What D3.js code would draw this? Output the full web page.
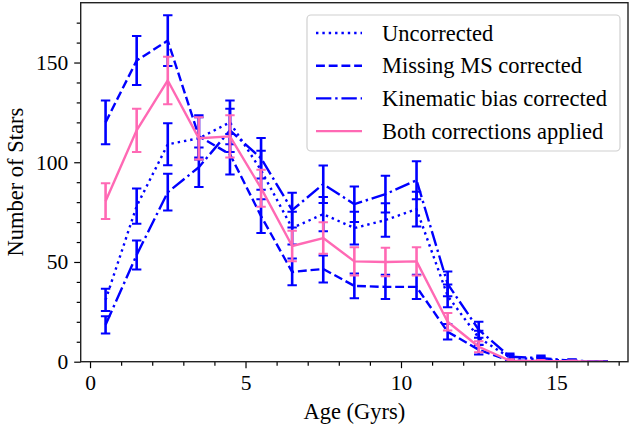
<!DOCTYPE html>
<html>
<head>
<meta charset="utf-8">
<script src="https://cdn.jsdelivr.net/npm/d3@7"></script>
<style>
  html, body { margin: 0; padding: 0; background: #fff; }
  text { font-family: "Liberation Serif", "Times New Roman", serif; fill: #000; }
</style>
</head>
<body>
<svg id="chart" width="630" height="428"></svg>
<script>
// ---- data ----
const ages = [0.5, 1.5, 2.5, 3.5, 4.5, 5.5, 6.5, 7.5, 8.5, 9.5, 10.5, 11.5, 12.5, 13.5, 14.5, 15.5, 16.5];

const uncorrected    = [31, 78, 109, 112, 120, 96, 67, 74, 67, 71, 76.5, 33, 12, 2, 1.2, 0.4, 0.1];
const uncorrectedErr = [5.6, 8.8, 10.5, 10.6, 11, 9.8, 8.2, 8.6, 8.2, 8.4, 8.7, 5.7, 3.5, 1.4, 1.1, 0.6, 0.3];

const missingMS      = [120, 151, 161, 113, 104, 73, 45, 46.5, 38, 37.5, 37.5, 15, 6, 0.5, 0.3, 0.1, 0];
const missingMSErr   = [11, 12.3, 12.7, 10.6, 10.2, 8.5, 6.7, 6.8, 6.2, 6.1, 6.1, 3.9, 2.4, 0.7, 0.5, 0.3, 0];

const kinematic      = [18.5, 53.5, 85, 97.5, 116, 102, 76, 89, 79, 84, 91, 39, 16, 2.5, 1.8, 0.5, 0.1];
const kinematicErr   = [4.3, 7.3, 9.2, 9.9, 10.8, 10.1, 8.7, 9.4, 8.9, 9.2, 9.5, 6.2, 4, 1.6, 1.3, 0.7, 0.3];

const bothCorr       = [80.5, 116, 141, 112, 113, 87, 58, 62, 50.3, 50, 50.3, 20, 7.5, 0.5, 0.3, 0.2, 0];
const bothCorrErr    = [9, 10.8, 11.9, 10.6, 10.6, 9.3, 7.6, 7.9, 7.1, 7.1, 7.1, 4.4, 2.8, 0.7, 0.5, 0.4, 0];

const seriesNames = ["Uncorrected", "Missing MS corrected", "Kinematic bias corrected", "Both corrections applied"];

const xMajorTicks = [0, 5, 10, 15];
const yMajorTicks = [0, 50, 100, 150];
const xLabel = "Age (Gyrs)";
const yLabel = "Number of Stars";

// ---- styling / layout ----
const blue = "#0000ff", pink = "#ff69b4";
const lw = 2.4;
const styles = [
  { color: blue, dash: [lw * 1, lw * 1.65].join(",") },
  { color: blue, dash: [lw * 3.7, lw * 1.6].join(",") },
  { color: blue, dash: [lw * 6.4, lw * 1.6, lw * 1, lw * 1.6].join(",") },
  { color: pink, dash: null }
];
const series = [
  { name: seriesNames[0], values: uncorrected, errs: uncorrectedErr },
  { name: seriesNames[1], values: missingMS, errs: missingMSErr },
  { name: seriesNames[2], values: kinematic, errs: kinematicErr },
  { name: seriesNames[3], values: bothCorr, errs: bothCorrErr }
];

const plot = { left: 80.7, right: 628, top: 2.7, bottom: 361.7 };
const svg = d3.select("#chart");

const x = d3.scaleLinear().domain([-0.3, 17.3]).range([plot.left, plot.right]);
const y = d3.scaleLinear().domain([0, 180]).range([plot.bottom, plot.top]);

svg.append("defs").append("clipPath").attr("id", "clip")
  .append("rect").attr("x", plot.left).attr("y", plot.top)
  .attr("width", plot.right - plot.left).attr("height", plot.bottom - plot.top);

const dataG = svg.append("g").attr("clip-path", "url(#clip)");

series.forEach((s, i) => {
  const st = styles[i];
  const g = dataG.append("g");
  const pts = ages.map((a, k) => ({ a, v: s.values[k], e: s.errs[k] }));
  const line = d3.line().x(d => x(d.a)).y(d => y(d.v));
  g.append("path").datum(pts)
    .attr("d", line)
    .attr("fill", "none")
    .attr("stroke", st.color)
    .attr("stroke-width", lw)
    .attr("stroke-linejoin", "round")
    .attr("stroke-dasharray", st.dash);
  // error bars
  const eb = g.selectAll("g.eb").data(pts).join("g").attr("class", "eb");
  eb.append("line")
    .attr("x1", d => x(d.a)).attr("x2", d => x(d.a))
    .attr("y1", d => y(d.v - d.e)).attr("y2", d => y(d.v + d.e))
    .attr("stroke", st.color).attr("stroke-width", 2.6);
  [-1, 1].forEach(sgn => {
    eb.append("line")
      .attr("x1", d => x(d.a) - 4.7).attr("x2", d => x(d.a) + 4.7)
      .attr("y1", d => y(d.v + sgn * d.e)).attr("y2", d => y(d.v + sgn * d.e))
      .attr("stroke", st.color).attr("stroke-width", 2);
  });
});

// ---- axes ----
const xMinor = d3.range(0, 18, 1).filter(v => !xMajorTicks.includes(v));
const yMinor = d3.range(0, 180, 10).filter(v => !yMajorTicks.includes(v));

const xAxis = svg.append("g").attr("transform", `translate(0,${plot.bottom})`)
  .call(d3.axisBottom(x).tickValues(xMajorTicks).tickSize(6.5).tickPadding(7).tickFormat(d3.format("d")));
const xAxisMinor = svg.append("g").attr("transform", `translate(0,${plot.bottom})`)
  .call(d3.axisBottom(x).tickValues(xMinor).tickSize(4).tickFormat(""));
const yAxis = svg.append("g").attr("transform", `translate(${plot.left},0)`)
  .call(d3.axisLeft(y).tickValues(yMajorTicks).tickSize(6.5).tickPadding(6).tickFormat(d3.format("d")));
const yAxisMinor = svg.append("g").attr("transform", `translate(${plot.left},0)`)
  .call(d3.axisLeft(y).tickValues(yMinor).tickSize(4).tickFormat(""));

[xAxis, xAxisMinor, yAxis, yAxisMinor].forEach(a => {
  a.select(".domain").remove();
  a.selectAll(".tick line").attr("stroke", "#000").attr("stroke-width", 1.2);
  a.selectAll(".tick text")
    .style("font-family", '"Liberation Serif", "Times New Roman", serif')
    .style("font-size", "21.5px").attr("fill", "#000");
});

// frame
svg.append("rect")
  .attr("x", plot.left).attr("y", plot.top)
  .attr("width", plot.right - plot.left).attr("height", plot.bottom - plot.top)
  .attr("fill", "none").attr("stroke", "#222").attr("stroke-width", 1.4);

// axis labels
svg.append("text")
  .attr("x", (plot.left + plot.right) / 2).attr("y", 419)
  .attr("text-anchor", "middle").style("font-size", "22.5px")
  .text(xLabel);
svg.append("text")
  .attr("transform", `translate(23,${(plot.top + plot.bottom) / 2}) rotate(-90)`)
  .attr("text-anchor", "middle").style("font-size", "22.5px")
  .text(yLabel);

// ---- legend ----
const leg = svg.append("g");
leg.append("rect")
  .attr("x", 307).attr("y", 15).attr("width", 313).attr("height", 136)
  .attr("rx", 4).attr("ry", 4)
  .attr("fill", "#fff").attr("fill-opacity", 0.8)
  .attr("stroke", "#d0d0d0").attr("stroke-width", 1.2);
const rows = leg.selectAll("g.row").data(series).join("g")
  .attr("class", "row")
  .attr("transform", (d, i) => `translate(0,${33 + i * 32.7})`);
rows.append("line")
  .attr("x1", 316).attr("x2", 362).attr("y1", 0).attr("y2", 0)
  .attr("stroke", (d, i) => styles[i].color)
  .attr("stroke-width", lw)
  .attr("stroke-dasharray", (d, i) => styles[i].dash);
rows.append("text")
  .attr("x", 382).attr("y", 7.5)
  .style("font-size", "22.5px")
  .text(d => d.name);
</script>
</body>
</html>
